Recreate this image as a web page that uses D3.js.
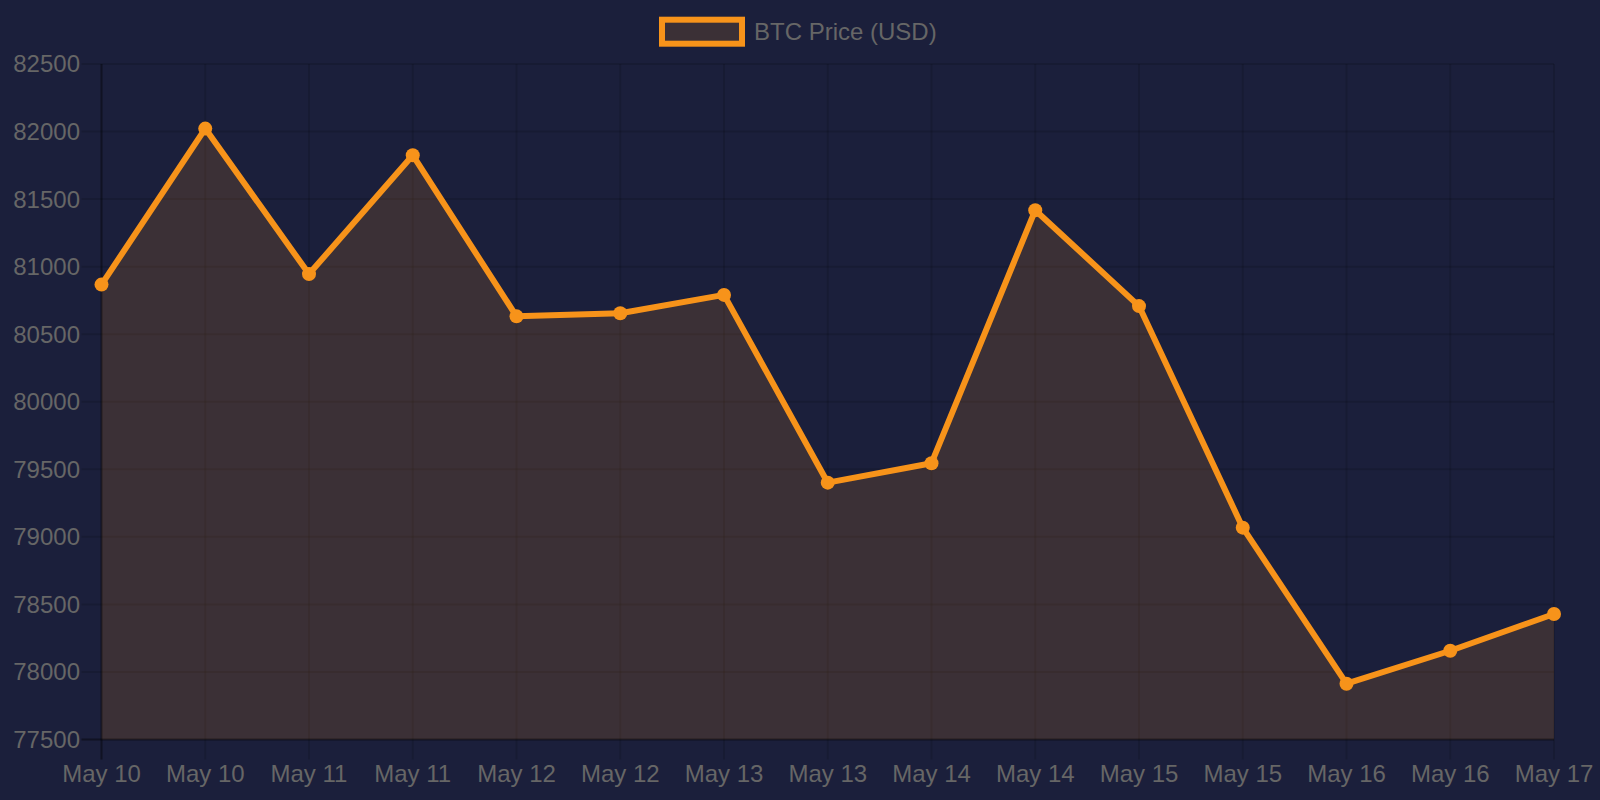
<!DOCTYPE html>
<html>
<head>
<meta charset="utf-8">
<script src="https://cdn.jsdelivr.net/npm/d3@7"></script>
<style>
  html, body { margin: 0; padding: 0; background: #1b1f3b; }
  svg { display: block; font-family: "Liberation Sans", Arial, sans-serif; }
</style>
</head>
<body>
<div id="chart"></div>
<script>
(function() {

  var labels = ['May 10', 'May 10', 'May 11', 'May 11', 'May 12', 'May 12', 'May 13', 'May 13',
                'May 14', 'May 14', 'May 15', 'May 15', 'May 16', 'May 16', 'May 17'];
  var prices = [80867, 82022, 80945, 81825, 80632, 80655, 80791, 79401,
                79545, 81418, 80708, 79068, 77913, 78157, 78429];
  var yTicks = [77500, 78000, 78500, 79000, 79500, 80000, 80500, 81000, 81500, 82000, 82500];
  var seriesName = 'BTC Price (USD)';

  var width = 1600, height = 800;
  var left = 101.5, right = 1554, top = 64, bottom = 739.5;
  var orange = '#f7931a', textColor = '#666666';

  var svg = d3.select('#chart')
    .append('svg')
    .attr('width', width)
    .attr('height', height);

  svg.append('rect')
    .attr('width', width)
    .attr('height', height)
    .attr('fill', '#1b1f3b');

  var x = d3.scalePoint()
    .domain(d3.range(labels.length))
    .range([left, right]);

  var y = d3.scaleLinear()
    .domain([77500, 82500])
    .range([bottom, top]);

  // grid
  var grid = svg.append('g');
  grid.selectAll('line.h')
    .data(yTicks)
    .enter()
    .append('line')
    .attr('x1', left - 20)
    .attr('x2', right)
    .attr('y1', function(d) { return y(d); })
    .attr('y2', function(d) { return y(d); })
    .attr('stroke', 'rgba(0,0,0,0.12)')
    .attr('stroke-width', 2);

  grid.selectAll('line.v')
    .data(labels)
    .enter()
    .append('line')
    .attr('x1', function(d, i) { return x(i); })
    .attr('x2', function(d, i) { return x(i); })
    .attr('y1', top)
    .attr('y2', bottom + 20)
    .attr('stroke', 'rgba(0,0,0,0.12)')
    .attr('stroke-width', 2);

  // area + line
  var area = d3.area()
    .x(function(d, i) { return x(i); })
    .y0(bottom)
    .y1(function(d) { return y(d); });

  var line = d3.line()
    .x(function(d, i) { return x(i); })
    .y(function(d) { return y(d); });

  svg.append('path')
    .datum(prices)
    .attr('fill', 'rgba(247,147,26,0.15)')
    .attr('d', area);

  // axis lines
  svg.append('line')
    .attr('x1', left).attr('x2', left)
    .attr('y1', top).attr('y2', bottom + 20)
    .attr('stroke', 'rgba(0,0,0,0.3)')
    .attr('stroke-width', 2);
  svg.append('line')
    .attr('x1', left - 20).attr('x2', right)
    .attr('y1', bottom).attr('y2', bottom)
    .attr('stroke', 'rgba(0,0,0,0.3)')
    .attr('stroke-width', 2);

  svg.append('path')
    .datum(prices)
    .attr('fill', 'none')
    .attr('stroke', orange)
    .attr('stroke-width', 6)
    .attr('stroke-linejoin', 'round')
    .attr('d', line);

  svg.append('g')
    .selectAll('circle')
    .data(prices)
    .enter()
    .append('circle')
    .attr('cx', function(d, i) { return x(i); })
    .attr('cy', function(d) { return y(d); })
    .attr('r', 7)
    .attr('fill', orange);

  // y labels
  svg.append('g')
    .selectAll('text')
    .data(yTicks)
    .enter()
    .append('text')
    .attr('x', 80)
    .attr('y', function(d) { return y(d); })
    .attr('dy', '0.35em')
    .attr('text-anchor', 'end')
    .attr('font-size', 24)
    .attr('fill', textColor)
    .text(function(d) { return d; });

  // x labels
  svg.append('g')
    .selectAll('text')
    .data(labels)
    .enter()
    .append('text')
    .attr('x', function(d, i) { return x(i); })
    .attr('y', 782)
    .attr('text-anchor', 'middle')
    .attr('font-size', 24)
    .attr('fill', textColor)
    .text(function(d) { return d; });

  // legend
  var legend = svg.append('g');
  legend.append('rect')
    .attr('x', 662)
    .attr('y', 19.7)
    .attr('width', 80)
    .attr('height', 24)
    .attr('fill', 'rgba(247,147,26,0.15)')
    .attr('stroke', orange)
    .attr('stroke-width', 6);
  legend.append('text')
    .attr('x', 754)
    .attr('y', 31.7)
    .attr('dy', '0.35em')
    .attr('font-size', 24)
    .attr('fill', textColor)
    .text(seriesName);

})()
</script>
</body>
</html>
